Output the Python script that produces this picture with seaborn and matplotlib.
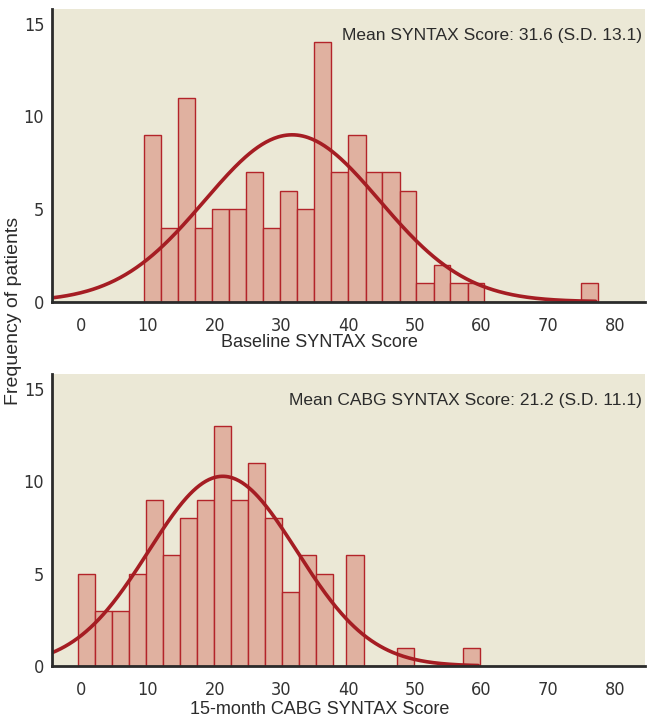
import numpy as np
import pandas as pd
import matplotlib
matplotlib.use("Agg")
import matplotlib.pyplot as plt
import seaborn as sns

# ---------------- data ----------------
base_edges = [9.4, 12.0, 14.5, 17.1, 19.6, 22.2, 24.7, 27.3, 29.8, 32.4, 34.9,
              37.5, 40.0, 42.6, 45.1, 47.7, 50.2, 52.8, 55.3, 57.9, 60.4,
              74.9, 77.4]
base_counts = [9, 4, 11, 4, 5, 5, 7, 4, 6, 5, 14, 7, 9, 7, 7, 6, 1, 2, 1, 1, 0, 1]
base_mean, base_sd = 31.6, 13.1

cabg_edges = [-0.5, 2.05, 4.6, 7.15, 9.7, 12.25, 14.8, 17.35, 19.9, 22.45, 25.0,
              27.55, 30.1, 32.65, 35.2, 37.75, 39.7, 42.3, 47.3, 49.85, 57.15, 59.8]
cabg_counts = [5, 3, 3, 5, 9, 6, 8, 9, 13, 9, 11, 8, 4, 6, 5, 0, 6, 0, 1, 0, 1]
cabg_mean, cabg_sd = 21.2, 11.1

x_ticks = [0, 10, 20, 30, 40, 50, 60, 70, 80]
y_ticks = [0, 5, 10, 15]

base_label = "Baseline SYNTAX Score"
cabg_label = "15-month CABG SYNTAX Score"
base_note = "Mean SYNTAX Score: 31.6 (S.D. 13.1)"
cabg_note = "Mean CABG SYNTAX Score: 21.2 (S.D. 11.1)"
y_label = "Frequency of patients"

# ---------------- style ----------------
sns.set_style("white")
plt.rcParams["font.family"] = ["Liberation Sans", "DejaVu Sans"]

BG = "#ebe8d6"
FILL = "#e0b1a0"
EDGE = "#b3242a"
CURVE = "#a51d23"
AXC = "#2b2b2b"

W, H = 653, 718
fig = plt.figure(figsize=(W / 100, H / 100), dpi=100)
fig.patch.set_facecolor("white")

XLIM = (-4.4, 84.5)
YLIM = (0, 15.8)


def panel(rect, edges, counts, mean, sd, xlabel, note, xl_y):
    ax = fig.add_axes(rect)
    ax.set_facecolor(BG)
    e = np.asarray(edges, float)
    c = np.asarray(counts, float)
    centers = (e[:-1] + e[1:]) / 2
    df = pd.DataFrame({"x": centers, "w": c})
    sns.histplot(data=df, x="x", weights="w", bins=list(edges), ax=ax,
                 color=FILL, edgecolor=EDGE, linewidth=1.0, alpha=1.0)
    # normal curve from the stated mean / SD, scaled to counts
    n = c.sum()
    bw = np.median(np.diff(e))
    xs = np.linspace(XLIM[0], e[-1] - 0.3, 400)
    ys = n * bw * np.exp(-0.5 * ((xs - mean) / sd) ** 2) / (sd * np.sqrt(2 * np.pi))
    sns.lineplot(x=xs, y=ys, ax=ax, color=CURVE, linewidth=2.6)
    ax.set_xlim(*XLIM)
    ax.set_ylim(*YLIM)
    ax.set_xticks(x_ticks)
    ax.set_yticks(y_ticks)
    tk = dict(family="DejaVu Sans", fontstretch="condensed", fontsize=13, color="#333333")
    ax.set_xticklabels([str(t) for t in x_ticks], **tk)
    ax.set_yticklabels([str(t) for t in y_ticks], **tk)
    ax.tick_params(axis="x", direction="out", length=6, width=1.5, color=AXC, pad=5)
    ax.tick_params(axis="y", direction="out", length=4, width=1.5, color=AXC, pad=1.5)
    for s in ("top", "right"):
        ax.spines[s].set_visible(False)
    for s in ("left", "bottom"):
        ax.spines[s].set_color(AXC)
        ax.spines[s].set_linewidth(2.0)
        ax.spines[s].set_zorder(5)
    ax.set_ylabel("")
    ax.set_xlabel(xlabel, fontsize=13, color="#2b2b2b")
    ax.xaxis.set_label_coords(0.451, xl_y)
    ax.text(0.995, 0.91, note, transform=ax.transAxes, ha="right", va="center",
            fontsize=12.5, color="#2b2b2b")
    ax.grid(False)
    return ax


L = 52 / W
R = 645 / W
panel([L, 1 - 301.7 / H, R - L, (301.7 - 9) / H], base_edges, base_counts,
      base_mean, base_sd, base_label, base_note, -0.112)
panel([L, 1 - 666 / H, R - L, (666 - 374) / H], cabg_edges, cabg_counts,
      cabg_mean, cabg_sd, cabg_label, cabg_note, -0.12)

fig.text(14 / W, 1 - 311 / H, y_label, rotation=90, ha="center", va="center",
         fontsize=14, color="#2b2b2b")

fig.savefig("out.png", dpi=100, facecolor="white")
